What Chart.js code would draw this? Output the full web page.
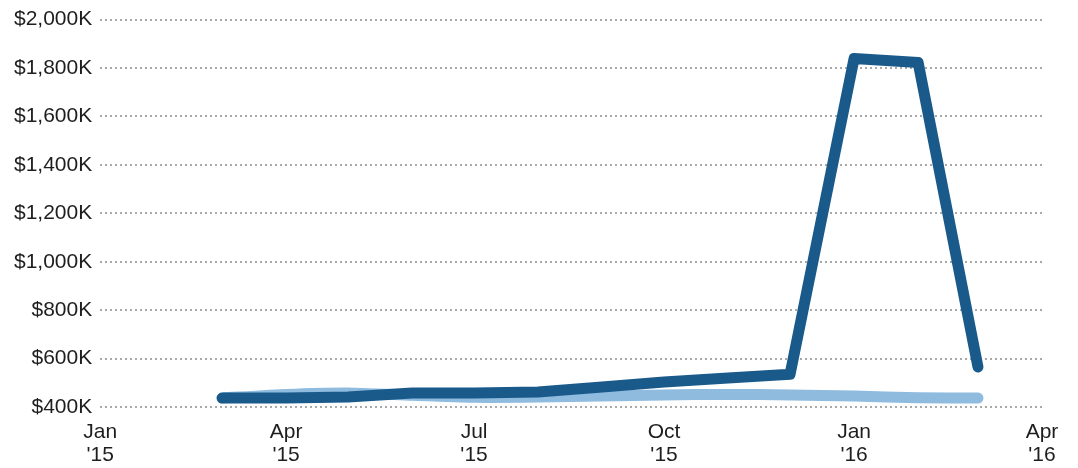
<!DOCTYPE html>
<html>
<head>
<meta charset="utf-8">
<script src="https://cdn.jsdelivr.net/npm/chart.js@4.4.0/dist/chart.umd.min.js"></script>
<style>
  html, body { margin: 0; padding: 0; background: #fff; }
  #wrap { width: 1078px; height: 468px; }
</style>
</head>
<body>
<div id="wrap"><canvas id="lineChart"></canvas></div>
<script>
// months (first of month) for each point
const months = ["2015-03-01", "2015-04-01", "2015-05-01", "2015-06-01", "2015-07-01", "2015-08-01",
  "2015-09-01", "2015-10-01", "2015-11-01", "2015-12-01", "2016-01-01", "2016-02-01", "2016-03-01"];

// values in $K
const darkValues = [437, 437, 441, 458, 458, 462, 483, 503, 520, 535, 1839, 1823, 565];
const lightValues = [437, 452, 458, 448, 440, 441, 445, 450, 452, 450, 445, 438, 437];

// x-axis ticks
const tickDates = ["2015-01-01", "2015-04-01", "2015-07-01", "2015-10-01", "2016-01-01", "2016-04-01"];
const tickLabels = [["Jan", "'15"], ["Apr", "'15"], ["Jul", "'15"], ["Oct", "'15"], ["Jan", "'16"], ["Apr", "'16"]];

const start = Date.UTC(2015, 0, 1);
function dayOf(s) {
  const p = s.split("-").map(Number);
  return (Date.UTC(p[0], p[1] - 1, p[2]) - start) / 86400000;
}
const tickDays = tickDates.map(dayOf);

const font = { family: "'Liberation Sans', Arial, sans-serif", size: 21, lineHeight: 1.1 };

new Chart(document.getElementById("lineChart").getContext("2d"), {
  type: "line",
  data: {
    datasets: [
      {
        label: "Dark",
        data: months.map((m, i) => ({ x: dayOf(m), y: darkValues[i] })),
        borderColor: "#1a5a8b",
        borderWidth: 11,
        borderCapStyle: "round",
        borderJoinStyle: "round",
        pointRadius: 0,
        tension: 0,
      },
      {
        label: "Light",
        data: months.map((m, i) => ({ x: dayOf(m), y: lightValues[i] })),
        borderColor: "#8fbbdf",
        borderWidth: 11,
        borderCapStyle: "round",
        borderJoinStyle: "round",
        pointRadius: 0,
        tension: 0.2,
      },
    ],
  },
  options: {
    responsive: true,
    maintainAspectRatio: false,
    animation: false,
    layout: { padding: { top: 8, left: 6, right: 36, bottom: 0 } },
    plugins: {
      legend: { display: false },
      tooltip: { enabled: false },
    },
    scales: {
      x: {
        type: "linear",
        min: tickDays[0],
        max: tickDays[tickDays.length - 1],
        grid: { display: false },
        border: { display: false },
        afterBuildTicks: (scale) => {
          scale.ticks = tickDays.map((v) => ({ value: v }));
        },
        afterFit: (scale) => {
          scale.height = 61;
        },
        ticks: {
          font: font,
          color: "#1e1e1e",
          padding: 6,
          maxRotation: 0,
          autoSkip: false,
          callback: (value) => {
            const idx = tickDays.indexOf(value);
            return idx >= 0 ? tickLabels[idx] : "";
          },
        },
      },
      y: {
        min: 400,
        max: 2000,
        grid: {
          color: "#a8a8a8",
          lineWidth: 2,
          drawTicks: false,
        },
        border: { display: false, dash: [2, 3] },
        ticks: {
          stepSize: 200,
          font: font,
          color: "#1e1e1e",
          padding: 8,
          callback: (value) => "$" + value.toLocaleString("en-US") + "K",
        },
      },
    },
  },
});
</script>
</body>
</html>
